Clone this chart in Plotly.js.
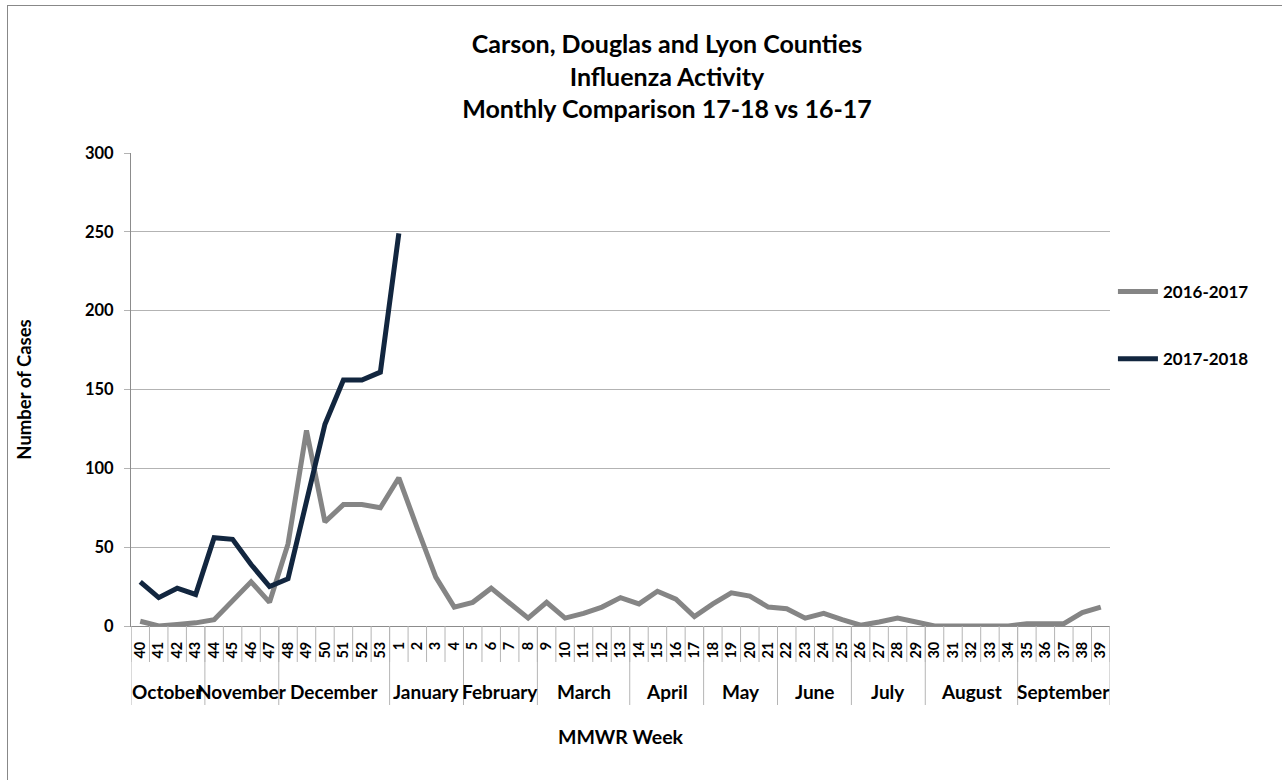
<!DOCTYPE html>
<html>
<head>
<meta charset="utf-8">
<script src="https://cdn.plot.ly/plotly-3.0.1.min.js"></script>
<style>
  html, body { margin: 0; padding: 0; background: #fff; }
  #chart { width: 1282px; height: 780px; }
  #frame { position: absolute; left: 7px; top: 5px; width: 1290px; height: 800px;
           border-left: 1.5px solid #888; border-top: 1.5px solid #888; pointer-events: none; }
</style>
</head>
<body>
<div id="chart"></div>
<div id="frame"></div>
<script>
// ---- data ----
const weeks = ["40","41","42","43","44","45","46","47","48","49","50","51","52","53",
  "1","2","3","4","5","6","7","8","9","10","11","12","13","14","15","16","17","18","19",
  "20","21","22","23","24","25","26","27","28","29","30","31","32","33","34","35","36","37","38","39"];
const months = ["October","November","December","January","February","March","April",
  "May","June","July","August","September"];
const monthWeekCounts = [4,4,6,4,4,5,4,4,4,4,5,5];
const season1617 = [3,0,1,2,4,16,28,15,52,124,66,77,77,75,
  94,62,31,12,15,24,14,5,15,5,8,12,18,14,22,17,6,14,21,19,12,11,5,8,4,0.5,2.5,
  5,2.5,0,0,0,0,0,1.5,1.5,1.5,8.5,12];
const season1718 = [28,18,24,20,56,55,39,25,30,78,128,156,156,161,249];
const yTicks = [0,50,100,150,200,250,300];

// ---- geometry helpers ----
const plotTop = 153, plotBottom = 626;
const plotH = plotBottom - plotTop;
const py = px => (plotBottom - px) / plotH; // pixel y -> paper y

const FONT = "Lato, 'Open Sans', sans-serif";
const sepColor = "#b5b5b5";

const shapes = [];
// per-week separators
for (let i = 0; i <= weeks.length; i++) {
  shapes.push({type: "line", xref: "x", yref: "paper", x0: i - 0.5, x1: i - 0.5,
    y0: 0, y1: py(662), line: {color: sepColor, width: 1}});
}
// month separators + labels
const annotations = [];
let start = 0;
shapes.push({type: "line", xref: "x", yref: "paper", x0: -0.5, x1: -0.5,
  y0: 0, y1: py(705), line: {color: sepColor, width: 1}});
months.forEach((m, k) => {
  const end = start + monthWeekCounts[k];
  shapes.push({type: "line", xref: "x", yref: "paper", x0: end - 0.5, x1: end - 0.5,
    y0: 0, y1: py(705), line: {color: sepColor, width: 1}});
  annotations.push({text: "<b>" + m + "</b>", xref: "x", yref: "paper",
    x: (start + end - 1) / 2, y: py(691), showarrow: false, xanchor: "center", yanchor: "middle",
    font: {family: FONT, size: 19, color: "#000"}});
  start = end;
});

const traces = [
  {x: weeks, y: season1617, type: "scatter", mode: "lines", name: "<b>2016-2017</b>",
   legendgroup: "a", line: {color: "#858585", width: 5}},
  {x: weeks.slice(0, season1718.length), y: season1718, type: "scatter", mode: "lines",
   name: "<b>2017-2018</b>", legendgroup: "b", line: {color: "#12263f", width: 5}}
];

const layout = {
  width: 1282, height: 780,
  margin: {l: 131, r: 172, t: plotTop, b: 780 - plotBottom, pad: 0},
  paper_bgcolor: "#fff", plot_bgcolor: "#fff",
  font: {family: FONT, color: "#000"},
  title: {text: "<b>Carson, Douglas and Lyon Counties<br>Influenza Activity<br>Monthly Comparison 17-18 vs 16-17</b>",
    font: {family: FONT, size: 25, color: "#000"},
    x: 667 / 1282, xanchor: "center", xref: "container", yref: "container",
    y: 1 - 53 / 780, yanchor: "top"},
  xaxis: {type: "category", categoryarray: weeks, categoryorder: "array",
    range: [-0.5, weeks.length - 0.5], showgrid: false, zeroline: false,
    showline: true, linecolor: "#8c8c8c", linewidth: 1,
    ticks: "", tickangle: -90, ticklabelstandoff: 9,
    tickfont: {family: FONT, size: 14.5, color: "#000"},
    tickprefix: "<b>", ticksuffix: "</b>",
    title: {text: "<b>MMWR Week</b>", font: {family: FONT, size: 19.5, color: "#000"}, standoff: 72}},
  yaxis: {range: [0, 300], tickvals: yTicks, ticktext: yTicks.map(v => "<b>" + v + "</b>"),
    showgrid: true, gridcolor: "#b3b3b3", gridwidth: 1, zeroline: false,
    showline: true, linecolor: "#8c8c8c", linewidth: 1,
    ticks: "outside", ticklen: 6, tickcolor: "#b3b3b3", ticklabelstandoff: 7,
    tickfont: {family: FONT, size: 16.5, color: "#000"},
    title: {text: "<b>Number of Cases</b>", font: {family: FONT, size: 18.5, color: "#000"}, standoff: 48}},
  showlegend: true,
  legend: {x: 1.003, xanchor: "left", y: py(274), yanchor: "top",
    font: {family: FONT, size: 17, color: "#000"}, tracegroupgap: 42, itemwidth: 40,
    traceorder: "grouped", bgcolor: "rgba(0,0,0,0)"},
  shapes: shapes,
  annotations: annotations
};

Plotly.newPlot("chart", traces, layout, {displayModeBar: false, staticPlot: true});
</script>
</body>
</html>
